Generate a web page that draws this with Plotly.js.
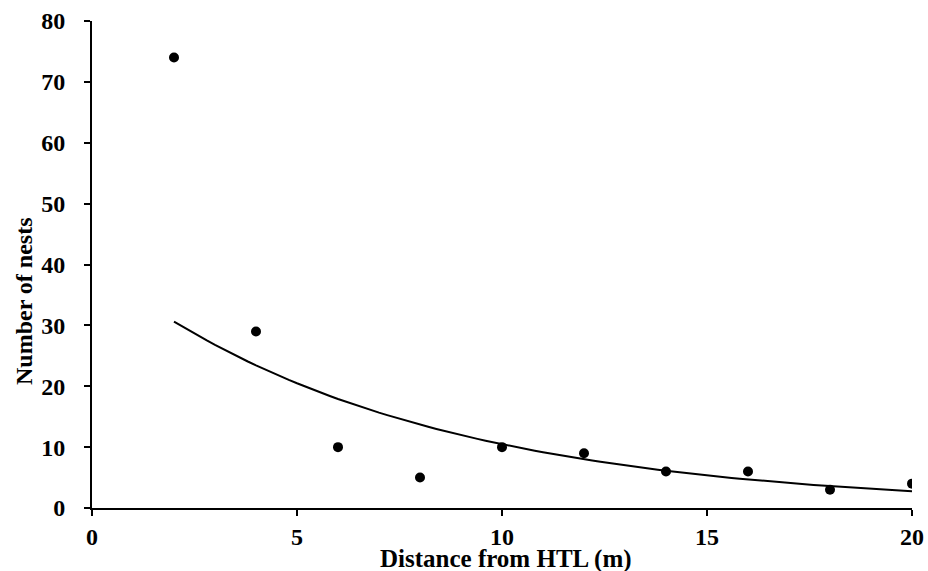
<!DOCTYPE html>
<html>
<head>
<meta charset="utf-8">
<script src="https://cdn.plot.ly/plotly-3.0.1.min.js"></script>
<style>html,body{margin:0;padding:0;background:#fff;}#chart{width:928px;height:571px;}</style>
</head>
<body>
<div id="chart"></div>
<script>
// Observed data
var distance = [2, 4, 6, 8, 10, 12, 14, 16, 18, 20];
var nests = [74, 29, 10, 5, 10, 9, 6, 6, 3, 4];
var xTicks = [0, 5, 10, 15, 20];
var yTicks = [0, 10, 20, 30, 40, 50, 60, 70, 80];

// Exponential trendline (least squares on ln y), as a spreadsheet trendline does
var n = distance.length, sx = 0, sy = 0, sxx = 0, sxy = 0;
for (var i = 0; i < n; i++) {
  var ly = Math.log(nests[i]);
  sx += distance[i]; sy += ly; sxx += distance[i]*distance[i]; sxy += distance[i]*ly;
}
var b = (n*sxy - sx*sy) / (n*sxx - sx*sx);
var lna = (sy - b*sx) / n;
var trendX = [], trendY = [];
var x0 = distance[0], x1 = distance[n-1];
for (var k = 0; k <= 90; k++) {
  var xv = x0 + (x1 - x0) * k / 90;
  trendX.push(xv);
  trendY.push(Math.exp(lna + b*xv));
}

var fam = '"Liberation Serif", "Times New Roman", serif';
var tf = {family: fam, size: 24, color: '#000', weight: 'bold'};
var xtf = {family: fam, size: 25, color: '#000', weight: 'bold'};

var traces = [
  {x: trendX, y: trendY, mode: 'lines', line: {color: '#000', width: 2}, hoverinfo: 'skip', showlegend: false},
  {x: distance, y: nests, mode: 'markers', marker: {color: '#000', size: 10}, showlegend: false}
];

var layout = {
  width: 928, height: 571,
  margin: {l: 92, r: 16, t: 21, b: 63},
  paper_bgcolor: '#fff', plot_bgcolor: '#fff',
  font: {family: fam, size: 24, color: '#000'},
  showlegend: false,
  xaxis: {
    range: [0, 20], tickvals: xTicks, ticktext: xTicks.map(String),
    showgrid: false, zeroline: false, showline: true, linecolor: '#000', linewidth: 2,
    ticks: 'outside', ticklen: 6, tickwidth: 2, tickcolor: '#000',
    tickfont: tf,
    fixedrange: true
  },
  yaxis: {
    range: [0, 80], tickvals: yTicks, ticktext: yTicks.map(String),
    showgrid: false, zeroline: false, showline: true, linecolor: '#000', linewidth: 2,
    ticks: 'outside', ticklen: 6, tickwidth: 2, tickcolor: '#000',
    ticklabelstandoff: 14,
    tickfont: tf,
    fixedrange: true
  },
  annotations: [
    {text: 'Distance from HTL (m)', xref: 'paper', yref: 'paper', x: 0.505, y: 0, yshift: -51,
     xanchor: 'center', yanchor: 'middle', showarrow: false, font: xtf},
    {text: 'Number of nests', xref: 'paper', yref: 'paper', x: 0, xshift: -68, y: 0.425,
     xanchor: 'center', yanchor: 'middle', textangle: -90, showarrow: false, font: tf}
  ]
};

Plotly.newPlot('chart', traces, layout, {displayModeBar: false, staticPlot: true});
</script>
</body>
</html>
